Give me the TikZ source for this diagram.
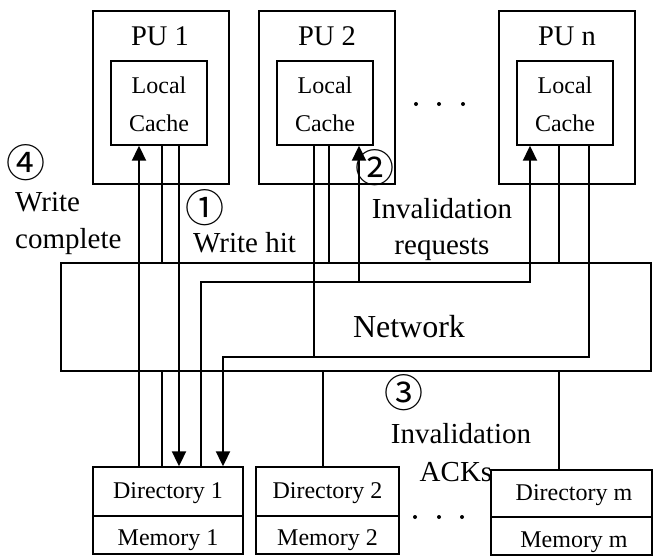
\documentclass[tikz,border=0pt]{standalone}
\usepackage{fontspec}
\setmainfont{Liberation Serif}
\newfontfamily\cjk{Noto Sans CJK SC}
\usetikzlibrary{arrows.meta}
\begin{document}
\begin{tikzpicture}[x=1pt,y=-1pt,
  box/.style={draw,line width=1.4pt,inner sep=0pt,rectangle},
  thinl/.style={line width=1.1pt},
  msg/.style={line width=2pt},
  tipend/.style={-{Triangle[width=14pt,length=15pt]}},
  lbl/.style={inner sep=0pt,anchor=base},
  lblw/.style={inner sep=0pt,anchor=base west},
  ftiny/.style={font=\fontsize{24}{28}\selectfont},
  fmid/.style={font=\fontsize{28.5}{34}\selectfont},
  fann/.style={font=\fontsize{29}{35}\selectfont},
  fnet/.style={font=\fontsize{32}{38}\selectfont},
  fnum/.style={font=\cjk\fontsize{39}{44}\selectfont,inner sep=0pt}
]
\useasboundingbox (0,0) rectangle (654,555);

% PU boxes
\node[box,minimum width=136pt,minimum height=173pt] (pu1) at (161,97.5) {};
\node[box,minimum width=136pt,minimum height=173pt] (pu2) at (327,97.5) {};
\node[box,minimum width=136pt,minimum height=173pt] (pun) at (567,97.5) {};
% caches
\node[box,minimum width=96pt,minimum height=84pt] (c1) at (159,103) {};
\node[box,minimum width=96pt,minimum height=84pt] (c2) at (325,103) {};
\node[box,minimum width=96pt,minimum height=84pt] (cn) at (565,103) {};
% network
\node[box,minimum width=590pt,minimum height=108pt] (net) at (356,317) {};
% directories and memories
\node[box,minimum width=150pt,minimum height=49pt] (d1) at (168,491.5) {};
\node[box,minimum width=150pt,minimum height=38pt] (m1) at (168,535) {};
\node[box,minimum width=143pt,minimum height=49pt] (d2) at (327.5,491.5) {};
\node[box,minimum width=143pt,minimum height=38pt] (m2) at (327.5,535) {};
\node[box,minimum width=161pt,minimum height=47pt] (dm) at (571.5,493.5) {};
\node[box,minimum width=161pt,minimum height=38pt] (mm) at (571.5,536) {};

% texts
\node[lbl,fmid] (tpu1) at (160,45) {PU 1};
\node[lbl,fmid] (tpu2) at (327,45) {PU 2};
\node[lbl,fmid] (tpun) at (567,45) {PU n};
\node[lbl,ftiny] (l1a) at (159,93) {Local};
\node[lbl,ftiny] (l1b) at (159,131) {Cache};
\node[lbl,ftiny] (l2a) at (325,93) {Local};
\node[lbl,ftiny] (l2b) at (325,131) {Cache};
\node[lbl,ftiny] (lna) at (565,93) {Local};
\node[lbl,ftiny] (lnb) at (565,131) {Cache};
\node[lbl,fnet] (tnet) at (409,337) {Network};
\node[lbl,ftiny] (td1) at (168,498) {Directory 1};
\node[lbl,ftiny] (tm1) at (168,545.5) {Memory 1};
\node[lbl,ftiny] (td2) at (327.5,498) {Directory 2};
\node[lbl,ftiny] (tm2) at (327.5,545.5) {Memory 2};
\node[lbl,ftiny] (tdm) at (574,500) {Directory m};
\node[lbl,ftiny] (tmm) at (574,547) {Memory m};

% annotations
\node[fnum] (n4) at (26,163) {④};
\node[lblw,fann] (wc1) at (15,211) {Write};
\node[lblw,fann] (wc2) at (15,248) {complete};
\node[fnum] (n1) at (205,208) {①};
\node[lblw,fann] (wh) at (193,252) {Write hit};
\node[fnum] (n2) at (375,168) {②};
\node[lbl,fann] (ir1) at (442,218) {Invalidation};
\node[lbl,fann] (ir2) at (442,254) {requests};
\node[fnum] (n3) at (404,393) {③};
\node[lbl,fann] (ia1) at (461,443) {Invalidation};
\node[lbl,fann] (ia2) at (456,481) {ACKs};

% ellipsis dots
\fill (416,104) circle (2pt) (439,104) circle (2pt) (463,104) circle (2pt);
\fill (415,517) circle (2pt) (439,517) circle (2pt) (462,517) circle (2pt);

% column coordinates
\coordinate (x139) at (139,0);
\coordinate (x162) at (162,0);
\coordinate (x179) at (179,0);
\coordinate (x201) at (201,0);
\coordinate (x223) at (223,0);
\coordinate (x314) at (314,0);
\coordinate (x323) at (323,0);
\coordinate (x329) at (329,0);
\coordinate (x359) at (359,0);
\coordinate (x530) at (530,0);
\coordinate (x559) at (559,0);
\coordinate (x589) at (589,0);
\coordinate (inv1) at (201,282);
\coordinate (inv2) at (359,282);
\coordinate (inv3) at (530,282);
\coordinate (ack1) at (223,357);
\coordinate (ack2) at (314,357);
\coordinate (ack3) at (589,357);

% thin structural links
\draw[thinl] (c1.south -| x162) -- (net.north -| x162);
\draw[thinl] (c2.south -| x329) -- (net.north -| x329);
\draw[thinl] (cn.south -| x559) -- (net.north -| x559);
\draw[thinl] (net.south -| x162) -- (d1.north -| x162);
\draw[thinl] (net.south -| x323) -- (d2.north -| x323);
\draw[thinl] (net.south -| x559) -- (dm.north -| x559);

% message paths
\draw[msg,tipend] (c1.south -| x179) -- (d1.north -| x179);
\draw[msg,tipend] (d1.north -| x139) -- (c1.south -| x139);
\draw[msg,tipend] (d1.north -| x201) -- (inv1) -- (inv3) -- (cn.south -| x530);
\draw[msg,tipend] (inv2) -- (c2.south -| x359);
\draw[msg,tipend] (cn.south -| x589) -- (ack3) -- (ack1) -- (d1.north -| x223);
\draw[msg] (c2.south -| x314) -- (ack2);
\end{tikzpicture}
\end{document}
